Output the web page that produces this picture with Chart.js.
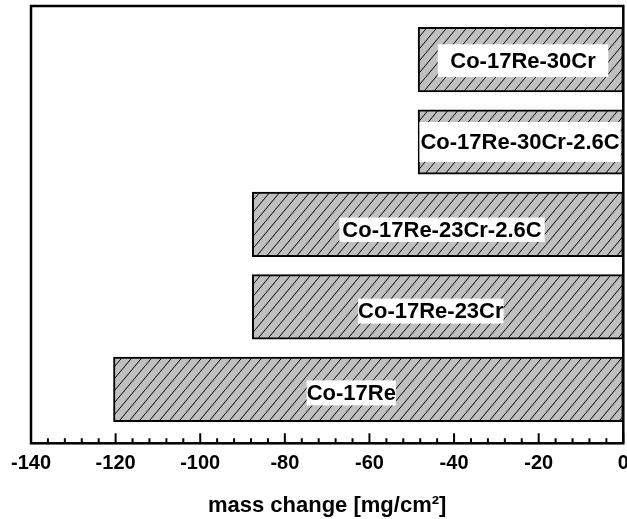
<!DOCTYPE html>
<html>
<head>
<meta charset="utf-8">
<script src="https://cdn.jsdelivr.net/npm/chart.js@4.4.1/dist/chart.umd.min.js"></script>
<style>
  html, body { margin: 0; padding: 0; background: #fff; }
  #wrap { width: 627px; height: 519px; }
</style>
</head>
<body>
<div id="wrap"><canvas id="massChart" width="627" height="519"></canvas></div>
<script>
// datos (de abajo hacia arriba)
const alloys = ['Co-17Re', 'Co-17Re-23Cr', 'Co-17Re-23Cr-2.6C', 'Co-17Re-30Cr-2.6C', 'Co-17Re-30Cr'];
const massChange = [-120.5, -87.7, -87.7, -48.5, -48.5];
const xTicks = [-140, -120, -100, -80, -60, -40, -20, 0];
const minorStep = 4;

// donde va cada etiqueta (x en unidades del eje, dy en px)
const labelBoxes = [
    { x: -64.3, dy: 3.6, padX: 0, h: 25 },
    { x: -45.5, dy: 4.2, padX: 0, h: 25 },
    { x: -42.85, dy: 5.3, padX: 3, h: 24.4 },
    { x: -24.4, dy: 0, padX: 1, h: 40 },
    { x: -23.7, dy: 1.1, padX: 12.5, h: 32.7 }
];

const FONT = "'Liberation Sans', Arial, sans-serif";

// patron rayado gris
const makeHatch = () => {
    const w = 10, h = 12;
    const c = document.createElement('canvas');
    c.width = w; c.height = h;
    const g = c.getContext('2d');
    g.fillStyle = '#c0c0c0';
    g.fillRect(0, 0, w, h);
    g.strokeStyle = '#000';
    g.lineWidth = 1;
    g.beginPath();
    g.moveTo(0, h); g.lineTo(w, 0);
    g.moveTo(-w, h); g.lineTo(0, 0);
    g.moveTo(w, h); g.lineTo(2 * w, 0);
    g.stroke();
    return g.createPattern(c, 'repeat');
};

const ctx = document.getElementById('massChart').getContext('2d');
const hatch = makeHatch();

// etiquetas con fondo blanco dentro de las barras
const labelPlugin = {
    id: 'barLabels',
    afterDatasetsDraw(chart) {
        const c = chart.ctx;
        const xs = chart.scales.x, ys = chart.scales.y;
        c.save();
        c.font = 'bold 22px ' + FONT;
        c.textAlign = 'center';
        c.textBaseline = 'middle';
        alloys.forEach((name, i) => {
            const b = labelBoxes[i];
            const cx = xs.getPixelForValue(b.x);
            const cy = ys.getPixelForValue(i) + b.dy;
            const tw = c.measureText(name).width + 2 * b.padX;
            c.fillStyle = '#fff';
            c.fillRect(cx - tw / 2, cy - b.h / 2, tw, b.h);
            c.fillStyle = '#000';
            c.fillText(name, cx, cy + 1);
        });
        c.restore();
    }
};

// marco y marcas hacia adentro
const framePlugin = {
    id: 'frame',
    afterDraw(chart) {
        const c = chart.ctx;
        const a = chart.chartArea;
        const xs = chart.scales.x;
        c.save();
        c.strokeStyle = '#000';
        c.lineWidth = 2;
        c.beginPath();
        for (let v = xs.min; v <= xs.max + 0.001; v += minorStep) {
            const px = xs.getPixelForValue(v);
            const major = xTicks.includes(Math.round(v));
            c.moveTo(px, a.bottom);
            c.lineTo(px, a.bottom - (major ? 10 : 5));
        }
        c.stroke();
        c.lineWidth = 2.5;
        c.strokeRect(a.left, a.top, a.right - a.left, a.bottom - a.top);
        c.restore();
    }
};

const chart = new Chart(ctx, {
    type: 'bar',
    data: {
        datasets: [{
            label: 'mass change',
            data: massChange.map((v, i) => ({ x: v, y: i })),
            backgroundColor: hatch,
            borderColor: '#000',
            borderWidth: 2,
            borderSkipped: false,
            barThickness: 64.5
        }]
    },
    options: {
        indexAxis: 'y',
        responsive: false,
        animation: false,
        events: [],
        layout: { padding: { left: 31, right: 3.7, top: 6, bottom: 0 } },
        plugins: {
            legend: { display: false },
            tooltip: { enabled: false }
        },
        scales: {
            x: {
                type: 'linear',
                min: -140,
                max: 0,
                grid: { display: false, drawTicks: false },
                border: { display: false },
                ticks: {
                    stepSize: 20,
                    padding: 8,
                    color: '#000',
                    font: { family: FONT, size: 20, weight: 'bold' },
                    callback: (v) => v
                },
                title: {
                    display: true,
                    text: 'mass change [mg/cm²]',
                    color: '#000',
                    font: { family: FONT, size: 22, weight: 'bold' },
                    padding: { top: 0, bottom: 0 }
                },
                afterFit: (s) => {
                    s.height = 75.7;
                    s.paddingLeft = 0;
                    s.paddingRight = 0;
                }
            },
            y: {
                type: 'linear',
                display: false,
                offset: false,
                min: -0.655,
                max: 4.65
            }
        }
    },
    plugins: [labelPlugin, framePlugin]
});
</script>
</body>
</html>
